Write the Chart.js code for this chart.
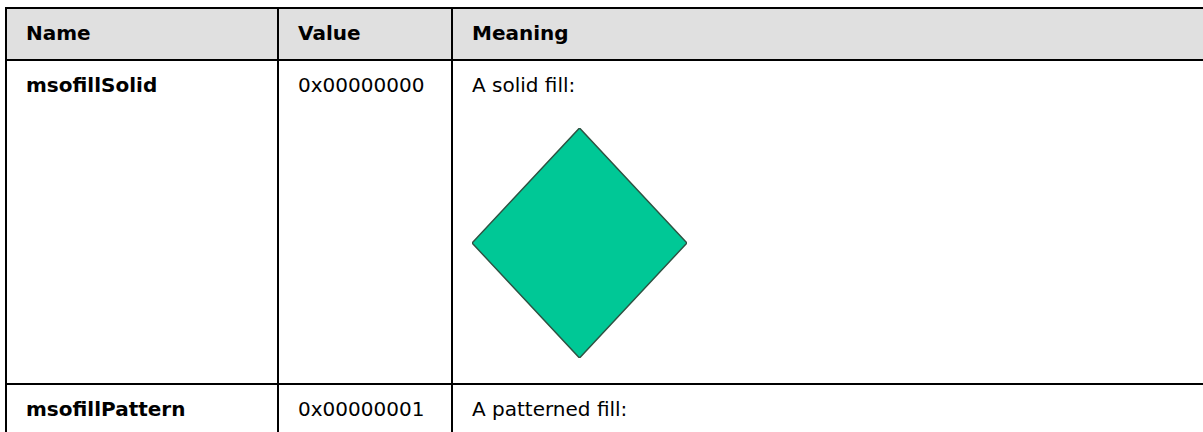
<!DOCTYPE html>
<html>
<head>
<meta charset="utf-8">
<script src="https://cdn.jsdelivr.net/npm/chart.js@4/dist/chart.umd.min.js"></script>
<style>
    html, body { margin: 0; padding: 0; background: #fff; }
    body { width: 1203px; height: 432px; overflow: hidden; position: relative;
           font-family: "DejaVu Sans", Verdana, sans-serif; font-size: 20px; color: #000; }
    table { position: absolute; left: 5px; top: 7px; border-collapse: separate; border-spacing: 0;
            table-layout: fixed; width: 1198px; border-top: 2px solid #000; }
    td, th { box-sizing: border-box; border-left: 2px solid #000; border-bottom: 2px solid #000;
             padding: 12px 0 0 19px; vertical-align: top; text-align: left; white-space: nowrap; }
    th { background: #e0e0e0; font-weight: bold; height: 52px; }
    td.name { font-weight: bold; }
    tr.tall td { height: 324px; }
    tr.short td { height: 80px; }
    #diamondWrap { position: absolute; left: 470px; top: 126px; width: 219px; height: 234px; }
</style>
</head>
<body>
<table id="fillTable">
    <colgroup><col style="width:272px"><col style="width:174px"><col style="width:752px"></colgroup>
    <thead><tr id="headRow"></tr></thead>
    <tbody id="fillBody"></tbody>
</table>
<div id="diamondWrap"><canvas id="diamondChart" width="219" height="234"></canvas></div>

<script>
// table text
const headers = ['Name', 'Value', 'Meaning'];
const names = ['msofillSolid', 'msofillPattern'];
const values = ['0x00000000', '0x00000001'];
const meanings = ['A solid fill:', 'A patterned fill:'];

// diamond outline (closed)
const diamondX = [0, 1, 0, -1, 0];
const diamondY = [1, 0, -1, 0, 1];

const headRow = document.getElementById('headRow');
headers.forEach(h => {
    const th = document.createElement('th');
    th.innerText = h;
    headRow.appendChild(th);
});

const tbody = document.getElementById('fillBody');
names.forEach((name, i) => {
    const tr = document.createElement('tr');
    tr.className = i === 0 ? 'tall' : 'short';
    tr.innerHTML = `
        <td class="name">${name}</td>
        <td>${values[i]}</td>
        <td>${meanings[i]}</td>
    `;
    tbody.appendChild(tr);
});

const ctx = document.getElementById('diamondChart').getContext('2d');
new Chart(ctx, {
    type: 'scatter',
    data: {
        datasets: [{
            data: diamondX.map((x, i) => ({ x: x, y: diamondY[i] })),
            showLine: true,
            fill: 'shape',
            backgroundColor: '#00c896',
            borderColor: '#2e5242',
            borderWidth: 1.5,
            pointRadius: 0,
            tension: 0
        }]
    },
    options: {
        responsive: false,
        animation: false,
        layout: { padding: 2 },
        scales: {
            x: { type: 'linear', min: -1, max: 1, display: false },
            y: { type: 'linear', min: -1, max: 1, display: false }
        },
        plugins: { legend: { display: false }, tooltip: { enabled: false } }
    }
});
</script>
</body>
</html>
